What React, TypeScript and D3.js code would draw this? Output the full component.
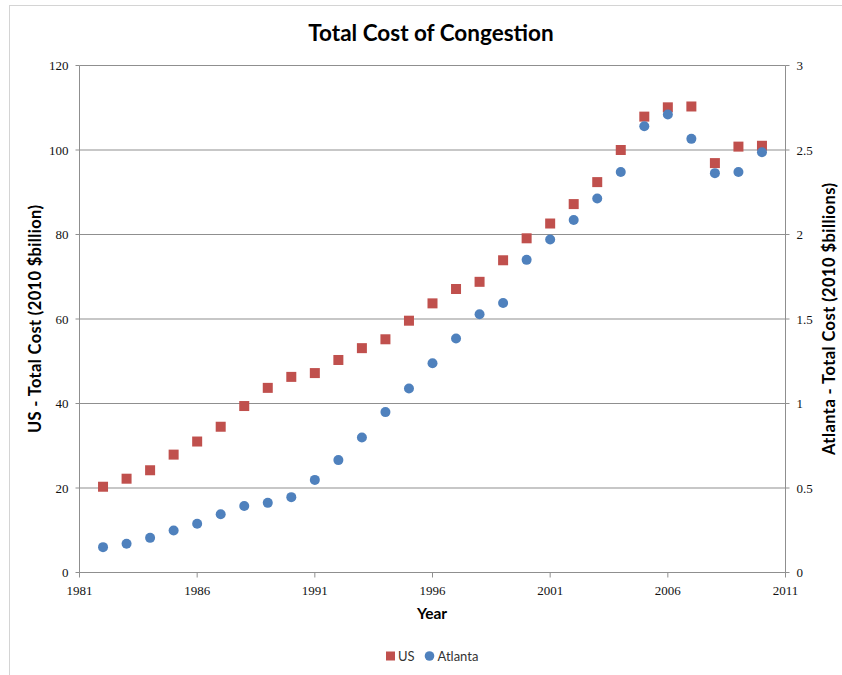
import React from "react";
import * as d3 from "d3";

const years = [
  1982, 1983, 1984, 1985, 1986, 1987, 1988, 1989, 1990, 1991, 1992, 1993, 1994, 1995,
  1996, 1997, 1998, 1999, 2000, 2001, 2002, 2003, 2004, 2005, 2006, 2007, 2008, 2009, 2010,
];
// US total cost, 2010 $billion (left axis)
const usCost = [
  20.3, 22.2, 24.2, 27.9, 31.0, 34.5, 39.4, 43.7, 46.3, 47.2, 50.3, 53.1, 55.2, 59.6,
  63.7, 67.1, 68.8, 73.9, 79.1, 82.6, 87.2, 92.4, 100.0, 107.9, 110.1, 110.3, 96.9, 100.8, 101.0,
];
// Atlanta total cost, 2010 $billions (right axis)
const atlantaCost = [
  0.15, 0.17, 0.205, 0.248, 0.288, 0.345, 0.394, 0.412, 0.446, 0.548, 0.665, 0.799, 0.949, 1.089,
  1.238, 1.385, 1.528, 1.595, 1.85, 1.97, 2.086, 2.213, 2.37, 2.641, 2.71, 2.566, 2.363, 2.37, 2.487,
];
const xTicks = [1981, 1986, 1991, 1996, 2001, 2006, 2011];
const leftTicks = [0, 20, 40, 60, 80, 100, 120];
const rightTicks = [0, 0.5, 1, 1.5, 2, 2.5, 3];

const W = 842;
const H = 675;
const plot = { left: 79.5, right: 785.5, top: 65.5, bottom: 572.5 };

const RED = "#C0504D";
const BLUE = "#4F81BD";
const GRID = "#8f8f8f";
const SANS = "Lato, 'Open Sans', sans-serif";
const SERIF = "'Liberation Serif', 'DejaVu Serif', serif";

export default function App() {
  const x = d3.scaleLinear().domain([1981, 2011]).range([plot.left, plot.right]);
  const yL = d3.scaleLinear().domain([0, 120]).range([plot.bottom, plot.top]);
  const yR = d3.scaleLinear().domain([0, 3]).range([plot.bottom, plot.top]);
  const sq = 10;
  const cy = 319;

  return (
    <svg
      width={W}
      height={H}
      style={{ position: "absolute", left: 0, top: 0, background: "#fff" }}
    >
      <rect x={9.5} y={5.5} width={900} height={700} fill="#fff" stroke="#d4d4d4" />

      <text x={431} y={41} textAnchor="middle" fontFamily={SANS} fontWeight={700} fontSize={22.5} fill="#000">
        Total Cost of Congestion
      </text>

      {/* horizontal gridlines */}
      {leftTicks.map((t) => (
        <line key={"g" + t} x1={plot.left} x2={plot.right} y1={yL(t)} y2={yL(t)} stroke={GRID} strokeWidth={1} />
      ))}

      {/* axes */}
      <line x1={plot.left} x2={plot.left} y1={plot.top} y2={plot.bottom} stroke={GRID} />
      <line x1={plot.right} x2={plot.right} y1={plot.top} y2={plot.bottom} stroke={GRID} />
      <line x1={plot.left} x2={plot.right} y1={plot.bottom} y2={plot.bottom} stroke={GRID} />

      {leftTicks.map((t) => (
        <g key={"l" + t}>
          <line x1={plot.left - 4} x2={plot.left} y1={yL(t)} y2={yL(t)} stroke={GRID} />
          <text x={plot.left - 11} y={yL(t) + 4.5} textAnchor="end" fontFamily={SERIF} fontSize={13} fill="#111">
            {t}
          </text>
        </g>
      ))}
      {rightTicks.map((t) => (
        <g key={"r" + t}>
          <line x1={plot.right} x2={plot.right + 4} y1={yR(t)} y2={yR(t)} stroke={GRID} />
          <text x={plot.right + 11} y={yR(t) + 4.5} textAnchor="start" fontFamily={SERIF} fontSize={13} fill="#111">
            {t}
          </text>
        </g>
      ))}
      {xTicks.map((t) => (
        <g key={"x" + t}>
          <line x1={x(t)} x2={x(t)} y1={plot.bottom} y2={plot.bottom + 5} stroke={GRID} />
          <text x={x(t)} y={plot.bottom + 22} textAnchor="middle" fontFamily={SERIF} fontSize={13} fill="#111">
            {t}
          </text>
        </g>
      ))}

      {/* axis titles */}
      <text
        transform={`translate(41,${cy}) rotate(-90)`}
        textAnchor="middle"
        fontFamily={SANS}
        fontWeight={700}
        fontSize={16.5}
        textLength={228}
        fill="#000"
      >
        US - Total Cost (2010 $billion)
      </text>
      <text
        transform={`translate(835,${cy}) rotate(-90)`}
        textAnchor="middle"
        fontFamily={SANS}
        fontWeight={700}
        fontSize={16.5}
        textLength={272}
        fill="#000"
      >
        Atlanta - Total Cost (2010 $billions)
      </text>
      <text x={432} y={619} textAnchor="middle" fontFamily={SANS} fontWeight={700} fontSize={15.5} fill="#000">
        Year
      </text>

      {/* US series */}
      {years.map((yr, i) => (
        <rect
          key={"us" + yr}
          x={x(yr) - sq / 2}
          y={yL(usCost[i]) - sq / 2}
          width={sq}
          height={sq}
          fill={RED}
        />
      ))}
      {/* Atlanta series */}
      {years.map((yr, i) => (
        <circle key={"at" + yr} cx={x(yr)} cy={yR(atlantaCost[i])} r={5} fill={BLUE} />
      ))}

      {/* legend */}
      <rect x={386} y={651.5} width={9} height={9} fill={RED} />
      <text x={398} y={661} fontFamily={SANS} fontSize={13} fill="#333">
        US
      </text>
      <circle cx={429.5} cy={656} r={4.8} fill={BLUE} />
      <text x={437.5} y={661} fontFamily={SANS} fontSize={13} fill="#333">
        Atlanta
      </text>
    </svg>
  );
}
